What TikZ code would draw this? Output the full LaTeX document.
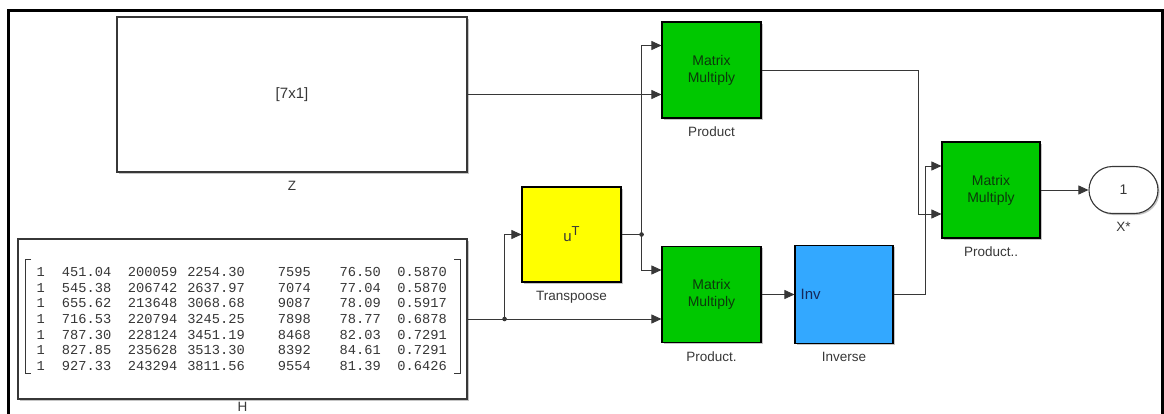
\documentclass[tikz,border=0pt]{standalone}
\usepackage{fontspec}
\setmainfont{Liberation Sans}
\newfontfamily\matfont{Liberation Mono}
\usetikzlibrary{calc,arrows.meta,shadows}
\definecolor{vert}{RGB}{0,200,0}
\definecolor{vertf}{RGB}{12,56,12}
\definecolor{jaune}{RGB}{255,255,0}
\definecolor{bleu}{RGB}{51,168,255}
\definecolor{bleuf}{RGB}{20,40,90}
\definecolor{gris}{RGB}{55,55,55}
\begin{document}
\begin{tikzpicture}[x=1pt,y=-1pt]
\tikzset{bloc/.style={draw=black, line width=1.1pt, minimum width=99pt, minimum height=96pt, inner sep=0pt,
		drop shadow={shadow xshift=1.6pt, shadow yshift=-1.6pt, fill=black!45}},
	produit/.style={bloc, fill=vert, text=vertf, align=center, font=\fontsize{14}{17}\selectfont},
	fleche/.style={-{Triangle[length=10pt,width=9pt]}, line width=0.8pt, gris},
	trait/.style={line width=0.8pt, gris},
	texte/.style={inner sep=0pt, text=gris, font=\fontsize{13.5}{16}\selectfont},
	etiq/.style={texte, below=8pt},
	mat/.style={anchor=east, inner sep=0pt, text=gris, font=\matfont\fontsize{13.7}{16}\selectfont}};
\useasboundingbox (0,0) rectangle (1164,414);
\draw[line width=3pt, black, line join=miter] (8,414) -- (8,11) -- (1162,11) -- (1162,414);
\node[bloc, draw=gris, fill=white, minimum width=350pt, minimum height=155pt, text=gris, font=\fontsize{15}{18}\selectfont] (z) at (292,94.5) {[7x1]};
\node[etiq] (zlab) at (z.south) {Z};
\node[bloc, draw=gris, fill=white, minimum width=449pt, minimum height=160pt] (h) at (242.5,319) {};
\node[texte, anchor=north] (hlab) at ($(h.south)+(0,2.5)$) {H};
\def\colx{{45,111.5,177.5,245,311,381,447}}
\foreach \ligne [count=\i from 0] in {{1,451.04,200059,2254.30,7595,76.50,0.5870},
		{1,545.38,206742,2637.97,7074,77.04,0.5870},
		{1,655.62,213648,3068.68,9087,78.09,0.5917},
		{1,716.53,220794,3245.25,7898,78.77,0.6878},
		{1,787.30,228124,3451.19,8468,82.03,0.7291},
		{1,827.85,235628,3513.30,8392,84.61,0.7291},
		{1,927.33,243294,3811.56,9554,81.39,0.6426}}{
	\foreach \v [count=\j] in \ligne {
		\pgfmathsetmacro\xx{\colx[\j-1]}
		\node[mat] (m\i-\j) at (\xx,272+15.67*\i) {\v};
	}
}
\draw[gris, line width=1pt] (31,259) -- (25,259) -- (25,373) -- (31,373);
\draw[gris, line width=1pt] (454,259) -- (460,259) -- (460,373) -- (454,373);
\node[bloc, fill=jaune, minimum height=95pt, text=gris, font=\fontsize{15}{18}\selectfont] (transp) at (571.5,234.5) {u\raisebox{6pt}{\fontsize{13}{13}\selectfont T}};
\node[etiq] (transplab) at (transp.south) {Transpoose};
\node[produit] (prod1) at (711.5,70) {Matrix\\Multiply};
\node[etiq] (prod1lab) at (prod1.south) {Product};
\node[produit] (prod2) at (711.5,294.5) {Matrix\\Multiply};
\node[etiq] (prod2lab) at (prod2.south) {Product.};
\node[bloc, fill=bleu, minimum width=98pt, minimum height=98pt] (inv) at (844,294.5) {};
\node[anchor=west, inner sep=0pt, text=bleuf, font=\fontsize{15}{18}\selectfont] (invtxt) at ($(inv.west)+(6,0)$) {Inv};
\node[etiq] (invlab) at (inv.south) {Inverse};
\node[produit, minimum width=98pt] (prod3) at (991,190) {Matrix\\Multiply};
\node[etiq] (prod3lab) at (prod3.south) {Product..};
\node[bloc, draw=gris, fill=white, minimum width=69pt, minimum height=47pt, rounded corners=23.5pt, text=gris, font=\fontsize{14}{17}\selectfont] (sortie) at (1123.5,190) {1};
\node[etiq] (sortielab) at (sortie.south) {X*};
\coordinate (p1a) at ($(prod1.west)+(0,-24.5)$);
\coordinate (p1b) at ($(prod1.west)+(0,24.5)$);
\coordinate (p2a) at ($(prod2.west)+(0,-24.5)$);
\coordinate (p2b) at ($(prod2.west)+(0,24.5)$);
\coordinate (p3a) at ($(prod3.west)+(0,-24)$);
\coordinate (p3b) at ($(prod3.west)+(0,24)$);
\coordinate (jh) at ($(h.east)+(37,0)$);
\coordinate (jt) at ($(transp.east)+(20,0)$);
\draw[fleche] (z.east) -- (p1b);
\draw[trait] (h.east) -- (jh);
\draw[fleche] (jh) -- (p2b);
\draw[fleche] (jh) |- (transp.west);
\draw[trait] (transp.east) -- (jt);
\draw[fleche] (jt) |- (p1a);
\draw[fleche] (jt) |- (p2a);
\fill[gris] (jh) circle (2.3);
\fill[gris] (jt) circle (2.3);
\draw[fleche] (prod2.east) -- (inv.west);
\draw[fleche] (inv.east) -| ($(p3a)+(-16,0)$) -- (p3a);
\draw[fleche] (prod1.east) -| ($(p3b)+(-23,0)$) -- (p3b);
\draw[fleche] (prod3.east) -- (sortie.west);
\end{tikzpicture}
\end{document}
